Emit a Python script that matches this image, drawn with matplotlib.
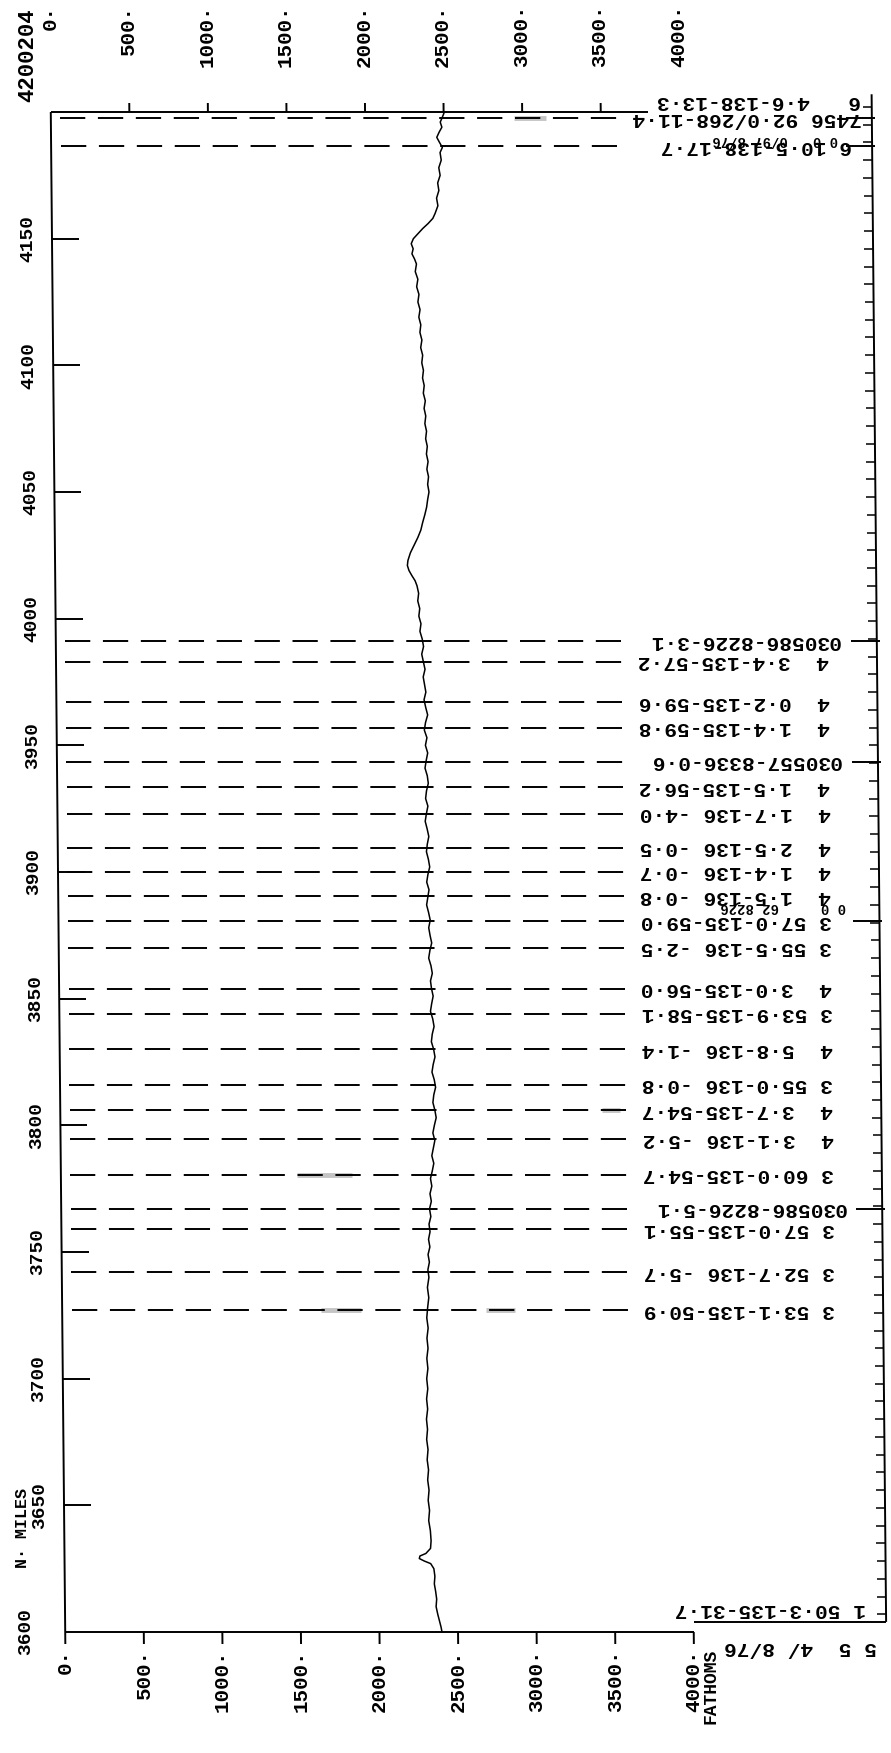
import numpy as np
import matplotlib
matplotlib.use("Agg")
import matplotlib.pyplot as plt
from matplotlib.transforms import Affine2D
from matplotlib.collections import LineCollection

plt.rcParams["font.family"] = ["Liberation Mono", "DejaVu Sans Mono"]
plt.rcParams["font.weight"] = "bold"

# ---------------------------------------------------------------------------
# data
# ---------------------------------------------------------------------------
profile_miles = [
    4200, 4198, 4196, 4194, 4192, 4190, 4188, 4186, 4184, 4181, 4178, 4175,
    4172, 4169, 4166, 4163, 4160, 4158, 4156, 4154, 4152, 4150, 4148, 4146,
    4144, 4142, 4140, 4137, 4134, 4131, 4128, 4125, 4122, 4119, 4116, 4113,
    4110, 4107, 4104, 4101, 4098, 4095, 4092, 4089, 4086, 4083, 4080, 4077,
    4074, 4071, 4068, 4065, 4062, 4059, 4056, 4053, 4050, 4047, 4044, 4041,
    4038, 4035, 4032, 4029, 4026, 4023, 4021, 4019, 4017, 4015, 4013, 4010,
    4007, 4004, 4001, 3998, 3995, 3992, 3989, 3986, 3983, 3980, 3977, 3974,
    3971, 3968, 3965, 3962, 3959, 3956, 3953, 3950, 3947, 3944, 3941, 3938,
    3935, 3932, 3929, 3926, 3923, 3920, 3917, 3914, 3911, 3908, 3905, 3902,
    3899, 3896, 3893, 3890, 3887, 3884, 3881, 3878, 3875, 3872, 3869, 3866,
    3863, 3860, 3857, 3854, 3851, 3848, 3845, 3842, 3839, 3836, 3833, 3830,
    3827, 3824, 3821, 3818, 3815, 3812, 3809, 3806, 3803, 3800, 3797, 3794,
    3791, 3788, 3785, 3782, 3779, 3776, 3773, 3770, 3767, 3764, 3761, 3758,
    3755, 3752, 3749, 3746, 3743, 3740, 3736, 3732, 3728, 3724, 3720, 3716,
    3712, 3708, 3704, 3700, 3696, 3692, 3688, 3684, 3680, 3676, 3672, 3668,
    3664, 3660, 3656, 3652, 3648, 3644, 3640, 3636, 3633, 3631, 3630, 3629,
    3628, 3627, 3625, 3622, 3619, 3616, 3613, 3610, 3607, 3604, 3602, 3600,
]
profile_fathoms = [
    2505, 2492, 2478, 2488, 2470, 2455, 2472, 2490, 2475, 2482, 2466, 2474,
    2458, 2465, 2450, 2458, 2440, 2425, 2395, 2360, 2330, 2300, 2286, 2298,
    2290, 2306, 2318, 2310, 2326, 2318, 2332, 2325, 2338, 2330, 2342, 2336,
    2348, 2340, 2352, 2346, 2356, 2350, 2360, 2354, 2366, 2358, 2368, 2362,
    2372, 2366, 2376, 2370, 2380, 2372, 2382, 2376, 2384, 2375, 2368, 2356,
    2342, 2330, 2310, 2286, 2262, 2246, 2242, 2252, 2270, 2290, 2302, 2312,
    2306, 2318, 2312, 2325, 2318, 2332, 2340, 2328, 2338, 2348, 2336, 2344,
    2352, 2340, 2350, 2362, 2348, 2340, 2356, 2346, 2360, 2350, 2342, 2356,
    2362, 2350, 2344, 2358, 2348, 2340, 2352, 2362, 2352, 2346, 2358, 2366,
    2354, 2346, 2360, 2352, 2344, 2356, 2366, 2356, 2364, 2374, 2362, 2354,
    2368, 2376, 2364, 2370, 2380, 2370, 2362, 2376, 2384, 2372, 2366, 2380,
    2388, 2376, 2368, 2382, 2390, 2378, 2372, 2384, 2392, 2380, 2370, 2382,
    2372, 2362, 2374, 2364, 2352, 2360, 2348, 2356, 2344, 2352, 2340, 2346,
    2336, 2344, 2332, 2340, 2330, 2336, 2326, 2334, 2326, 2320, 2328, 2320,
    2326, 2318, 2324, 2316, 2322, 2314, 2320, 2312, 2318, 2312, 2320, 2314,
    2322, 2316, 2324, 2318, 2326, 2320, 2330, 2334, 2330, 2300, 2262, 2258,
    2290, 2330, 2350, 2356, 2352, 2360, 2366, 2362, 2372, 2384, 2392, 2398,
]

# station fixes (dashed lines) and their labels, printed upside down
station_miles = [
    4197.5, 4186.5, 3991, 3983, 3967, 3957, 3943.5, 3933.5, 3923, 3909.5,
    3900, 3890.5, 3880.5, 3870, 3854, 3844, 3830, 3816, 3806, 3794.5, 3780.5,
    3767, 3759, 3742, 3727,
]
station_labels = [
    "7456 92·0/268-11·4", "6 10·5-138-17·7", "030586-8226-3·1",
    "4  3·4-135-57·2", "4  0·2-135-59·6", "4  1·4-135-59·8",
    "030557-8336-0·6", "4  1·5-135-56·2", "4  1·7-136 -4·0",
    "4  2·5-136 -0·5", "4  1·4-136 -0·7", "4  1·5-136 -0·8",
    "3 57·0-135-59·0", "3 55·5-136 -2·5", "4  3·0-135-56·0",
    "3 53·9-135-58·1", "4  5·8-136 -1·4", "3 55·0-136 -0·8",
    "4  3·7-135-54·7", "4  3·1-136 -5·2", "3 60·0-135-54·7",
    "030586-8226-5·1", "3 57·0-135-55·1", "3 52·7-136 -5·7",
    "3 53·1-135-50·9",
]
overprint_miles = [4189, 3886]
overprint_labels = ["0 0   0/97 8/76", "0 0     62 8226"]
event_miles = [4197.5, 4186.5, 3991, 3943.5, 3880.5, 3767]

# faint grey scan marks lying on some of the dashes (mile, from, to fathoms)
smudge_miles = [4197.5, 3806, 3780.5, 3727, 3727]
smudge_from = [2950, 3450, 1500, 1650, 2700]
smudge_to = [3150, 3560, 1850, 1900, 2880]

top_label, top_mile = "6   4·6-138-13·3", 4204
end_label, end_mile = "1 50·3-135-31·7", 3609
date_label, date_mile = "5 5  4/ 8/76", 3594

fathom_ticks = [0, 500, 1000, 1500, 2000, 2500, 3000, 3500, 4000]
fathom_labels = ["0·", "500·", "1000·", "1500·", "2000·", "2500·", "3000·",
                 "3500·", "4000·"]
mile_ticks = [3650, 3700, 3750, 3800, 3850, 3900, 3950, 4000, 4050, 4100, 4150]
mile_labels = [str(m) for m in mile_ticks]
frame_ticks = np.arange(3607, 4204, 7)

# ---------------------------------------------------------------------------
W, H = 891, 1753
AX_L, AX_R, AX_T, AX_B = 58, 879, 112, 1632
X0, X1, Y0, Y1 = 0, 5225, 3600, 4200

fig = plt.figure(figsize=(W / 100, H / 100), dpi=100)
ax = fig.add_axes([AX_L / W, 1 - AX_B / H, (AX_R - AX_L) / W, (AX_B - AX_T) / H])
ax.set_xlim(X0, X1)
ax.set_ylim(Y0, Y1)
ax.axis("off")

PXF = (AX_R - AX_L) / (X1 - X0)   # pixels per fathom
PXM = (AX_B - AX_T) / (Y1 - Y0)   # pixels per mile


def fpx(px):
    return px / PXF


def mpx(px):
    return px / PXM


# the scanned sheet is slightly sheared: x drifts right going down the page
K = 0.0095
yc = H - (AX_T + AX_B) / 2
shear = Affine2D(np.array([[1.0, -K, K * yc], [0.0, 1.0, 0.0], [0.0, 0.0, 1.0]]))
T = ax.transData + shear

LW = 1.4
kw = dict(color="black", transform=T, clip_on=False)

# scan smudges first so the dashes sit on top
segs = [[(a, m), (b, m)] for m, a, b in zip(smudge_miles, smudge_from, smudge_to)]
ax.add_collection(LineCollection(segs, linewidths=3.5, colors="#c4c4c4",
                                 transform=T, clip_on=False))

# frame
frame = [
    [(X0, Y0), (X0, Y1)],
    [(X0, Y1), (3800, Y1)],
    [(X0, Y0), (4000, Y0)],
    [(X1, 3604), (X1, 4207)],
    [(4000, 3604), (X1, 3604)],
]
ax.add_collection(LineCollection(frame, linewidths=LW, **kw))

# ticks
segs = [[(f, Y0), (f, Y0 - mpx(12))] for f in fathom_ticks]
segs += [[(f, Y1), (f, Y1 + mpx(9))] for f in fathom_ticks[1:-1]]
segs += [[(X0, m), (X0 + fpx(27), m)] for m in mile_ticks]
ax.add_collection(LineCollection(segs, linewidths=LW, **kw))
segs = [[(X1 - fpx(9), m), (X1, m)] for m in frame_ticks]
ax.add_collection(LineCollection(segs, linewidths=1.1, **kw))
segs = [[(X1 - fpx(26), m), (X1 + fpx(3), m)] for m in event_miles]
ax.add_collection(LineCollection(segs, linewidths=LW, **kw))

# tick labels
for f, lab in zip(fathom_ticks, fathom_labels):
    ax.text(f, Y0 - mpx(17), lab, rotation=90, ha="center", va="top",
            fontsize=15, transform=T)
    ax.text(f, Y1 + mpx(AX_T - 5), lab, rotation=90, ha="center", va="top",
            fontsize=15, transform=T)
for m, lab in zip(mile_ticks, mile_labels):
    ax.text(X0 - fpx(24), m, lab, rotation=90, ha="center", va="center",
            fontsize=14, transform=T)
ax.text(X0 - fpx(40), Y0, "3600", rotation=90, ha="center", va="center",
        fontsize=14, transform=T)
ax.text(X0 - fpx(22), Y1 + mpx(AX_T - 55), "4200204", rotation=90,
        ha="center", va="center", fontsize=16, transform=T)
ax.text(X0 - fpx(42), Y0 + mpx(AX_B - 1528), "N· MILES", rotation=90,
        ha="center", va="center", fontsize=12, transform=T)
ax.text(4000 + fpx(17), Y0 - mpx(17), "FATHOMS", rotation=90, ha="center",
        va="top", fontsize=13, transform=T)

# depth profile
ax.plot(profile_fathoms, profile_miles, lw=1.1, **kw)

# station dashes and labels
for m in station_miles:
    ax.plot([60, 3600], [m, m], lw=LW, ls=(0, (13, 6.5)), **kw)
for m, lab in zip(station_miles, station_labels):
    if lab.startswith("7456"):
        xr = 5165
    elif lab.startswith("6 10"):
        xr = 5100
    elif lab.startswith("03"):
        xr = 4990
    else:
        xr = 4921
    ax.text(xr, m, lab, rotation=180, ha="right", va="center", fontsize=15.3,
            transform=T)
for m, lab in zip(overprint_miles, overprint_labels):
    ax.text(5010, m, lab, rotation=180, ha="right", va="center", fontsize=10,
            transform=T)

ax.text(5160, top_mile, top_label, rotation=180, ha="right", va="center",
        fontsize=15.3, transform=T)
ax.text(5098, end_mile, end_label, rotation=180, ha="right", va="center",
        fontsize=15.3, transform=T)
ax.text(5168, date_mile, date_label, rotation=180, ha="right", va="center",
        fontsize=15.3, transform=T)

fig.savefig("out.png", dpi=100)
